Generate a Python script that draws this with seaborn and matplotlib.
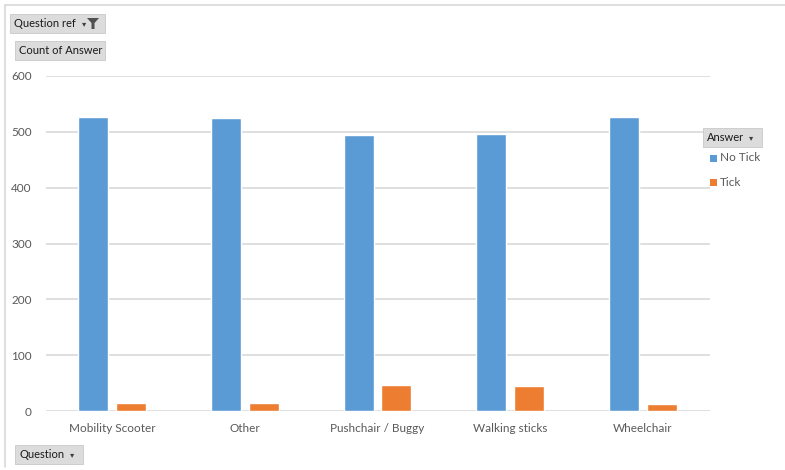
import matplotlib
matplotlib.use("Agg")
import matplotlib.pyplot as plt
import seaborn as sns
import pandas as pd
from matplotlib.lines import Line2D
from matplotlib.patches import Rectangle, Polygon

categories = ["Mobility Scooter", "Other", "Pushchair / Buggy", "Walking sticks", "Wheelchair"]
no_tick = [526, 524, 494, 496, 527]
tick = [14, 15, 46, 44, 13]
series_names = ["No Tick", "Tick"]
y_ticks = [0, 100, 200, 300, 400, 500, 600]

df = pd.DataFrame({
    "Question": categories * 2,
    "Answer": [series_names[0]] * len(categories) + [series_names[1]] * len(categories),
    "Count": no_tick + tick,
})

sns.set_theme(style="white")
plt.rcParams["font.family"] = ["Lato", "DejaVu Sans"]

W, H = 785, 470
fig = plt.figure(figsize=(W / 100, H / 100), dpi=100)
ax = fig.add_axes([45.5 / W, 1 - 411 / H, (709.5 - 45.5) / W, (411 - 76) / H])

palette = {"No Tick": "#5B9BD5", "Tick": "#ED7D31"}
sns.barplot(data=df, x="Question", y="Count", hue="Answer", order=categories,
            hue_order=series_names, palette=palette, width=0.572, gap=0.21,
            saturation=1, ax=ax, legend=False, zorder=3)

ax.set_ylim(0, 600)
ax.set_xlim(-0.5, len(categories) - 0.5)
ax.set_yticks(y_ticks)
ax.set_yticklabels([str(v) for v in y_ticks])
ax.yaxis.grid(True, color="#D9D9D9", linewidth=1.2, zorder=0)
ax.set_axisbelow(True)
for s in ax.spines.values():
    s.set_visible(False)
ax.tick_params(axis="both", length=0, colors="#595959", labelsize=8.5)
ax.tick_params(axis="y", pad=10)
ax.tick_params(axis="x", pad=9)
ax.set_xlabel("")
ax.set_ylabel("")

# chart frame (top and left)
fig.add_artist(Line2D([5 / W, 5 / W], [1 - 5 / H, 1 - 467 / H], color="#D9D9D9", lw=1.2))
fig.add_artist(Line2D([5 / W, 1], [1 - 5 / H, 1 - 5 / H], color="#D9D9D9", lw=1.2))

def button(x0, y0, x1, y1, label):
    fig.add_artist(Rectangle((x0 / W, 1 - y1 / H), (x1 - x0) / W, (y1 - y0) / H,
                             facecolor="#DCDCDC", edgecolor="#C8C8C8", lw=0.6))
    fig.text((x0 + 4) / W, 1 - (y0 + y1) / 2 / H, label, fontsize=8, color="#1A1A1A",
             va="center", ha="left", family=["Lato", "DejaVu Sans"])

def px(x, y):
    return (x / W, 1 - y / H)

button(10, 14, 105, 33, "Question ref")
fig.text(82 / W, 1 - 24 / H, "\u25be", fontsize=6, color="#404040", va="center", ha="left",
         family=["DejaVu Sans"])
# funnel icon
fig.add_artist(Polygon([px(87, 18), px(99, 18), px(94.5, 23), px(94.5, 29), px(91.5, 29), px(91.5, 23)],
                       closed=True, facecolor="#505050", edgecolor="none"))
button(15, 41, 105, 60, "Count of Answer")
button(703, 128, 762, 147, "Answer")
fig.text(749 / W, 1 - 138 / H, "\u25be", fontsize=6, color="#404040", va="center", ha="left",
         family=["DejaVu Sans"])
button(15, 445, 83, 464, "Question")
fig.text(70 / W, 1 - 455 / H, "\u25be", fontsize=6, color="#404040", va="center", ha="left",
         family=["DejaVu Sans"])

# legend
for i, name in enumerate(series_names):
    yc = 158 + i * 24
    fig.add_artist(Rectangle((710 / W, 1 - (yc + 3.5) / H), 7 / W, 7 / H,
                             facecolor=palette[name], edgecolor="none"))
    fig.text(720 / W, 1 - yc / H, name, fontsize=8.5, color="#595959", va="center", ha="left")

fig.savefig("out.png", dpi=100, facecolor="white")
